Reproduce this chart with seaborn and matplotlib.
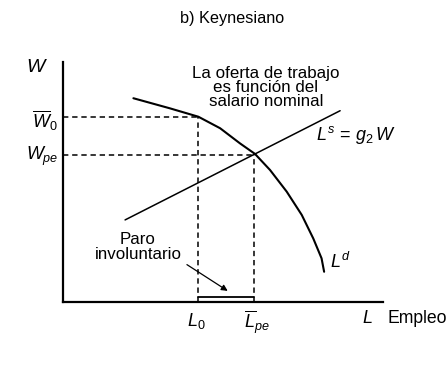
import matplotlib
matplotlib.use("Agg")
import matplotlib.pyplot as plt
import seaborn as sns
import pandas as pd

# curva de demanda de trabajo L^d (empleo, salario nominal)
ld_empleo = [2.20, 3.34, 4.23, 4.91, 5.53, 6.00, 6.47, 6.99, 7.46, 7.82, 8.08, 8.16]
ld_salario = [8.49, 8.07, 7.72, 7.24, 6.61, 6.17, 5.50, 4.60, 3.63, 2.65, 1.82, 1.26]

# oferta de trabajo L^s = g2 W
ls_empleo = [1.94, 8.66]
ls_salario = [3.42, 7.97]

# niveles marcados
L0, Lpe = 4.23, 5.97
W0, Wpe = 7.72, 6.13

sns.set_theme(style="white")
plt.rcParams["font.family"] = ["Liberation Sans", "DejaVu Sans"]
plt.rcParams["text.color"] = "black"
plt.rcParams["mathtext.fontset"] = "custom"
plt.rcParams["mathtext.rm"] = "Liberation Sans"
plt.rcParams["mathtext.it"] = "Liberation Sans:italic"

fig = plt.figure(figsize=(4.46, 3.83), dpi=100)
ax = fig.add_axes([63 / 446, 81 / 383, 320 / 446, 240 / 383])

ld = pd.DataFrame({"L": ld_empleo, "W": ld_salario})
ls = pd.DataFrame({"L": ls_empleo, "W": ls_salario})
sns.lineplot(data=ld, x="L", y="W", ax=ax, color="black", lw=1.5, sort=False)
sns.lineplot(data=ls, x="L", y="W", ax=ax, color="black", lw=1.1, sort=False)

# guias punteadas
dash = dict(color="black", lw=1.1, ls=(0, (3.5, 2.5)))
ax.plot([0, L0], [W0, W0], **dash)
ax.plot([L0, L0], [0, W0], **dash)
ax.plot([0, Lpe], [Wpe, Wpe], **dash)
ax.plot([Lpe, Lpe], [0, Wpe], **dash)

# paro involuntario sobre el eje
ax.plot([L0, Lpe], [0.2, 0.2], color="black", lw=1.3)
ax.annotate("", xy=(5.22, 0.4), xytext=(3.8, 1.62),
            arrowprops=dict(arrowstyle="-|>", color="black", lw=0.9, mutation_scale=9))

ax.set_xlim(0, 10)
ax.set_ylim(0, 10)
ax.set_xticks([])
ax.set_yticks([])
sns.despine(ax=ax)
for s in ["left", "bottom"]:
    ax.spines[s].set_color("black")
    ax.spines[s].set_linewidth(1.6)
ax.set_xlabel("")
ax.set_ylabel("")

fs = 12.2
ax.text(-0.8, 9.75, "$W$", fontsize=14, ha="center", va="center", clip_on=False)
ax.text(-0.15, 7.55, r"$\overline{W}_0$", fontsize=13, ha="right", va="center", clip_on=False)
ax.text(-0.15, 6.05, r"$W_{pe}$", fontsize=13, ha="right", va="center", clip_on=False)
ax.text(L0 - 0.05, -0.8, "$L_0$", fontsize=13, ha="center", va="center", clip_on=False)
ax.text(Lpe + 0.1, -0.85, r"$\overline{L}_{pe}$", fontsize=13, ha="center", va="center", clip_on=False)
ax.text(9.5, -0.7, "$L$", fontsize=13, ha="center", va="center", clip_on=False)
ax.text(10.15, -0.68, "Empleo", fontsize=fs + 0.5, ha="left", va="center", clip_on=False)

ax.text(6.34, 8.92, "La oferta de trabajo\nes función del\nsalario nominal", fontsize=fs,
        ha="center", va="center", linespacing=0.92)
ax.text(7.9, 6.95, r"$L^s\,=\,g_2\,W$", fontsize=13, ha="left", va="center")
ax.text(8.35, 1.65, "$L^d$", fontsize=13, ha="left", va="center")
ax.text(2.34, 2.3, "Paro\ninvoluntario", fontsize=fs, ha="center", va="center", linespacing=1.0)

fig.text(232 / 446, 1 - 18 / 383, "b) Keynesiano", fontsize=11.7, ha="center", va="center")

fig.savefig("out.png", dpi=100, facecolor="white")
